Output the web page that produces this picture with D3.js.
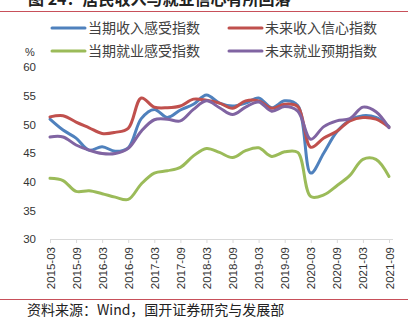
<!DOCTYPE html>
<html><head><meta charset="utf-8">
<script src="https://cdn.jsdelivr.net/npm/d3@7"></script>
<style>
html,body{margin:0;padding:0;background:#fff;}
svg{display:block;}
</style></head>
<body>
<svg id="chart" width="415" height="330"></svg>
<script>
const quarters = ["2015-03","2015-06","2015-09","2015-12","2016-03","2016-06","2016-09","2016-12",
  "2017-03","2017-06","2017-09","2017-12","2018-03","2018-06","2018-09","2018-12",
  "2019-03","2019-06","2019-09","2019-12","2020-03","2020-06","2020-09","2020-12",
  "2021-03","2021-06","2021-09"];
const tickLabels = quarters.filter((d,i)=>i%2===0);
const yTicks = [30,35,40,45,50,55,60];
const seriesNames = ["当期收入感受指数","未来收入信心指数","当期就业感受指数","未来就业预期指数"];
const incomeNow   = [50.9,49.0,47.6,45.5,46.1,45.3,45.9,51.0,52.6,51.2,52.5,53.5,55.1,53.7,53.2,53.7,54.6,52.9,54.1,53.3,41.5,45.0,48.7,50.7,51.5,51.2,49.6];
const incomeFut   = [51.3,51.5,50.4,49.4,48.4,48.6,49.3,54.6,53.0,52.9,53.2,54.4,54.2,53.7,52.8,54.1,54.1,52.8,53.5,53.1,46.0,47.6,48.8,50.6,51.2,50.9,49.5];
const jobNow      = [40.6,40.2,38.3,38.4,37.9,37.3,36.9,39.6,41.5,41.9,42.5,44.5,45.8,45.1,44.2,45.4,45.9,44.4,45.2,45.1,37.4,37.7,39.3,41.1,43.9,43.9,40.9];
const jobFut      = [47.8,47.8,46.4,45.5,44.9,44.9,45.8,48.8,50.8,50.9,50.6,52.6,54.1,52.9,51.7,53.0,53.9,52.3,53.1,52.3,47.4,49.6,50.6,51.0,53.0,52.2,49.4];
const colors = ["#4f81bd","#c0504d","#9bbb59","#8064a2"];
const allSeries = [incomeNow, incomeFut, jobNow, jobFut];

const svg = d3.select("#chart");
const cjk = "'Noto Sans CJK SC', sans-serif";
const lat = "'Liberation Sans', Arial, sans-serif";

// title (cropped at top)
svg.append("text").attr("x",28).attr("y",5).attr("font-family",cjk).attr("font-size",16)
  .attr("font-weight","bold").attr("fill","#222").text("图 24：居民收入与就业信心有所回落");
svg.append("line").attr("x1",0).attr("x2",408).attr("y1",11.5).attr("y2",11.5)
  .attr("stroke","#c8505a").attr("stroke-width",1);

const x = d3.scalePoint().domain(quarters).range([50,389]).padding(0);
const y = d3.scaleLinear().domain([30,60]).range([239,67]);

// y axis labels
const ya = svg.append("g").attr("transform","translate(36,0)")
  .call(d3.axisLeft(y).tickValues(yTicks).tickSize(0).tickPadding(0));
ya.select(".domain").remove();
ya.selectAll("text").attr("font-family",lat).attr("font-size",11.5).attr("fill","#333");

svg.append("text").attr("x",30).attr("y",56).attr("text-anchor","middle")
  .attr("font-family",lat).attr("font-size",11).attr("fill","#333").text("%");

// x axis
const xa = svg.append("g").attr("transform",`translate(0,${y(30)})`)
  .call(d3.axisBottom(x).tickValues(tickLabels).tickSize(4).tickSizeOuter(0));
xa.select(".domain").remove();
xa.append("line").attr("x1",x.range()[0]).attr("x2",x.range()[1]+4).attr("y1",0.5).attr("y2",0.5)
  .attr("stroke","#d9d9d9").attr("stroke-width",1);
xa.selectAll(".tick line").attr("stroke","#d9d9d9");
xa.selectAll(".tick text").attr("font-family",lat).attr("font-size",11.5).attr("fill","#333")
  .attr("text-anchor","end").attr("transform","rotate(-90)")
  .attr("x",-8).attr("y",0).attr("dy","0.35em");

// lines
const line = d3.line().x((d,i)=>x(quarters[i])).y(d=>y(d)).curve(d3.curveCatmullRom.alpha(0.5));
allSeries.forEach((s,k)=>{
  svg.append("path").datum(s).attr("d",line).attr("fill","none")
    .attr("stroke",colors[k]).attr("stroke-width",3).attr("stroke-linejoin","round").attr("stroke-linecap","round");
});

// legend
const legPos = [[52,28],[229,28],[52,51],[229,51]];
seriesNames.forEach((n,k)=>{
  const g = svg.append("g").attr("transform",`translate(${legPos[k][0]},${legPos[k][1]})`);
  g.append("line").attr("x1",0).attr("x2",33).attr("y1",0).attr("y2",0)
    .attr("stroke",colors[k]).attr("stroke-width",3).attr("stroke-linecap","round");
  g.append("text").attr("x",36).attr("y",0).attr("dy","0.36em").attr("font-family",cjk)
    .attr("font-size",14).attr("fill","#404040").text(n);
});

// footer
svg.append("line").attr("x1",0).attr("x2",408).attr("y1",299.5).attr("y2",299.5)
  .attr("stroke","#c8505a").attr("stroke-width",1);
svg.append("text").attr("x",27).attr("y",315).attr("font-family",cjk).attr("font-size",14)
  .attr("fill","#222").text("资料来源：Wind，国开证券研究与发展部");
</script>
</body></html>
